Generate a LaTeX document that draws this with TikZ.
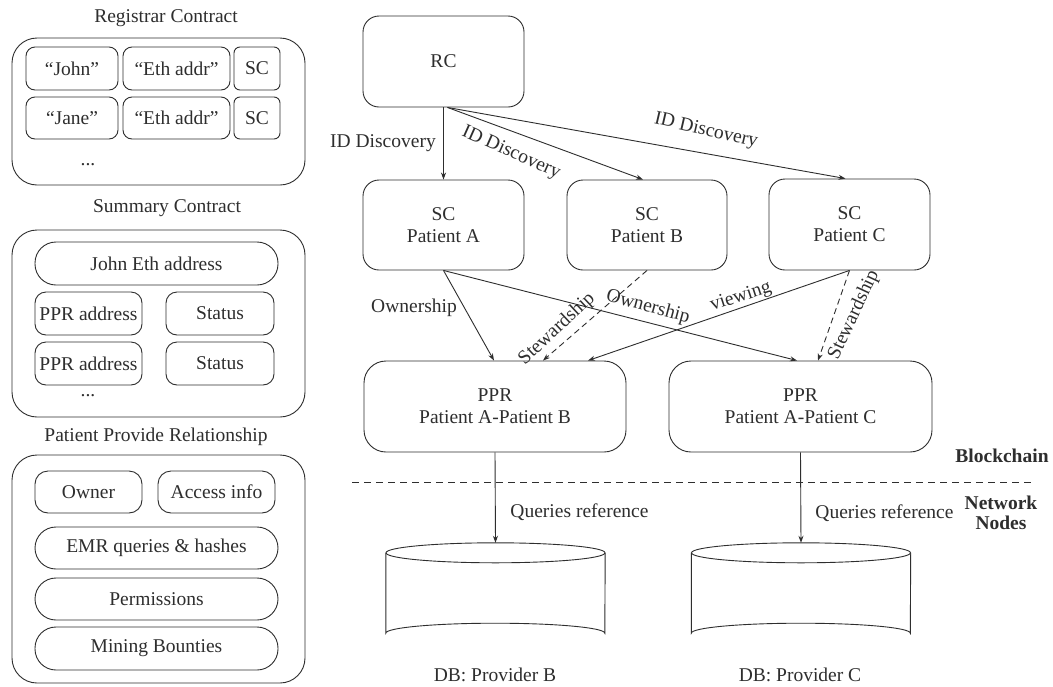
\documentclass[tikz,border=0pt]{standalone}
\usepackage{fontspec}
\setmainfont{Liberation Serif}
\usetikzlibrary{arrows.meta,calc}
\definecolor{ink}{HTML}{2E2E2E}

\begin{document}
\begin{tikzpicture}[x=1pt,y=-1pt,
  font=\fontsize{19.5}{22}\selectfont,
  line/.style={draw=ink, line width=0.9pt},
  txt/.style={text=ink, inner sep=0pt, align=center},
  panel/.style={line, rounded corners=25pt, minimum width=293pt, inner sep=0pt},
  cell/.style={line, txt, rounded corners=9pt, minimum height=43pt},
  pill/.style={line, txt, rounded corners=21pt, minimum width=243pt, minimum height=43pt},
  flowbox/.style={line, txt, rounded corners=16pt, minimum width=161pt, minimum height=90pt},
  pprbox/.style={line, txt, rounded corners=22pt, minimum width=262pt, minimum height=91pt},
  dbbox/.style={inner sep=0pt, minimum width=219pt, minimum height=100pt},
  arr/.style={line, -{Stealth[length=7pt,width=5pt]}},
  darr/.style={arr, dash pattern=on 6pt off 4pt},
  sep/.style={line, dash pattern=on 7pt off 5pt},
  tag/.style={txt, font=\fontsize{19.5}{20}\selectfont\bfseries}
]
\fill[white] (0,0) rectangle (1053,686);
\useasboundingbox (0,0) rectangle (1053,686);

% ---------- Registrar Contract ----------
\node[txt] (rcTitle) at (166,18) {Registrar Contract};
\node[panel, minimum height=147pt] (rcPanel) at (158.5,111.5) {};
\node[cell, minimum width=92pt]  (john)  at (72,68.5)   {``John''};
\node[cell, minimum width=107pt] (eth1)  at (176.5,68.5) {``Eth addr''};
\node[cell, minimum width=46pt, rounded corners=6pt] (sc1) at (257,68.5) {SC};
\node[cell, minimum width=92pt, minimum height=42pt]  (jane) at (72,118) {``Jane''};
\node[cell, minimum width=107pt, minimum height=42pt] (eth2) at (176.5,118) {``Eth addr''};
\node[cell, minimum width=46pt, minimum height=42pt, rounded corners=6pt] (sc2) at (257,118) {SC};
\node[txt] (rcMore) at (88,165) {...};

% ---------- Summary Contract ----------
\node[txt] (scTitle) at (167,208) {Summary Contract};
\node[panel, minimum height=187pt] (scPanel) at (158.5,323.5) {};
\node[pill] (johnEth) at (156.5,263.5) {John Eth address};
\node[cell, minimum width=107pt, rounded corners=11pt] (ppr1) at (88.5,313.5) {PPR address};
\node[cell, minimum width=108pt, rounded corners=11pt] (st1)  at (220,313.5)  {Status};
\node[cell, minimum width=107pt, rounded corners=11pt] (ppr2) at (88.5,363.5) {PPR address};
\node[cell, minimum width=108pt, rounded corners=11pt] (st2)  at (220,363.5)  {Status};
\node[txt] (scMore) at (88,396) {...};

% ---------- Patient Provide Relationship ----------
\node[txt] (pprTitle) at (156,437) {Patient Provide Relationship};
\node[panel, minimum height=228pt] (pprPanel) at (158.5,569) {};
\node[cell, minimum width=107pt, minimum height=42pt, rounded corners=13pt] (owner)  at (88.5,492)  {Owner};
\node[cell, minimum width=117pt, minimum height=42pt, rounded corners=13pt] (access) at (216.5,492) {Access info};
\node[pill, minimum height=42pt] (emr)   at (156.5,548)   {EMR queries \& hashes};
\node[pill, minimum height=42pt] (perm)  at (156.5,599)   {Permissions};
\node[pill, minimum height=43pt] (bounty) at (156.5,648.5) {Mining Bounties};

% ---------- Contract flow ----------
\node[flowbox, minimum height=91pt] (rc) at (443.5,61.5) {RC};
\node[flowbox] (scA) at (443.5,225) {SC\\Patient A};
\node[flowbox, minimum width=160pt] (scB) at (647,225) {SC\\Patient B};
\node[flowbox, minimum height=91pt] (scC) at (849.5,224.5) {SC\\Patient C};
\node[pprbox] (pprB) at (495,406.5) {PPR\\Patient A-Patient B};
\node[pprbox, minimum width=263pt] (pprC) at (800.5,406.5) {PPR\\Patient A-Patient C};

\draw[arr] (rc.south) -- (scA.north);
\draw[arr] ([xshift=4pt]rc.south) -- ([xshift=-4pt]scB.north);
\draw[arr] ([xshift=4pt]rc.south) -- ([xshift=-4pt]scC.north);
\node[txt] (idA) at (383,143) {ID Discovery};
\node[txt, rotate=-24] (idB) at (511,153) {ID Discovery};
\node[txt, rotate=-13] (idC) at (706,131) {ID Discovery};

\draw[arr]  (scA.south) -- ([xshift=-1pt]pprB.north);
\draw[arr]  (scA.south) -- ([xshift=-3.5pt]pprC.north);
\draw[darr] (scB.south) -- ([xshift=48pt]pprB.north);
\draw[arr]  (scC.south) -- ([xshift=93pt]pprB.north);
\draw[darr] (scC.south) -- ([xshift=17.5pt]pprC.north);
\node[txt] (ownA) at (414,308) {Ownership};
\node[txt, rotate=-15] (ownC) at (648,307) {Ownership};
\node[txt, rotate=43] (stewB) at (557,329) {Stewardship};
\node[txt, rotate=18] (viewB) at (741,297) {viewing};
\node[txt, rotate=65] (stewC) at (854,315) {Stewardship};

% ---------- Layer boundary ----------
\coordinate (sepL) at (352,482);
\coordinate (sepR) at (1032,482);
\draw[sep] (sepL) -- (sepR);
\node[tag] (chain) at (1002,456) {Blockchain};
\node[tag] (nodes) at (1001,513) {Network\\Nodes};

% ---------- Provider databases (drums) ----------
\node[dbbox] (dbB) at (495.5,593) {};
\node[dbbox] (dbC) at (801,593) {};
\foreach \db in {dbB,dbC}{
  \draw[line] ($(\db.north west)+(0,10)$) -- ($(\db.south west)+(0,-10)$)
    arc[start angle=180, end angle=0, x radius=109.5pt, y radius=10pt]
    -- ($(\db.north east)+(0,10)$);
  \draw[line] ($(\db.north)+(0,10)$) ellipse [x radius=109.5pt, y radius=10pt];
}
\node[txt] (dbBlabel) at (495,675) {DB: Provider B};
\node[txt] (dbClabel) at (800,675) {DB: Provider C};

\draw[arr] (pprB.south) -- (dbB.north);
\draw[arr] (pprC.south) -- (dbC.north);
\node[txt] (qB) at (579.5,512) {Queries reference};
\node[txt] (qC) at (884.5,513) {Queries reference};
\end{tikzpicture}
\end{document}
